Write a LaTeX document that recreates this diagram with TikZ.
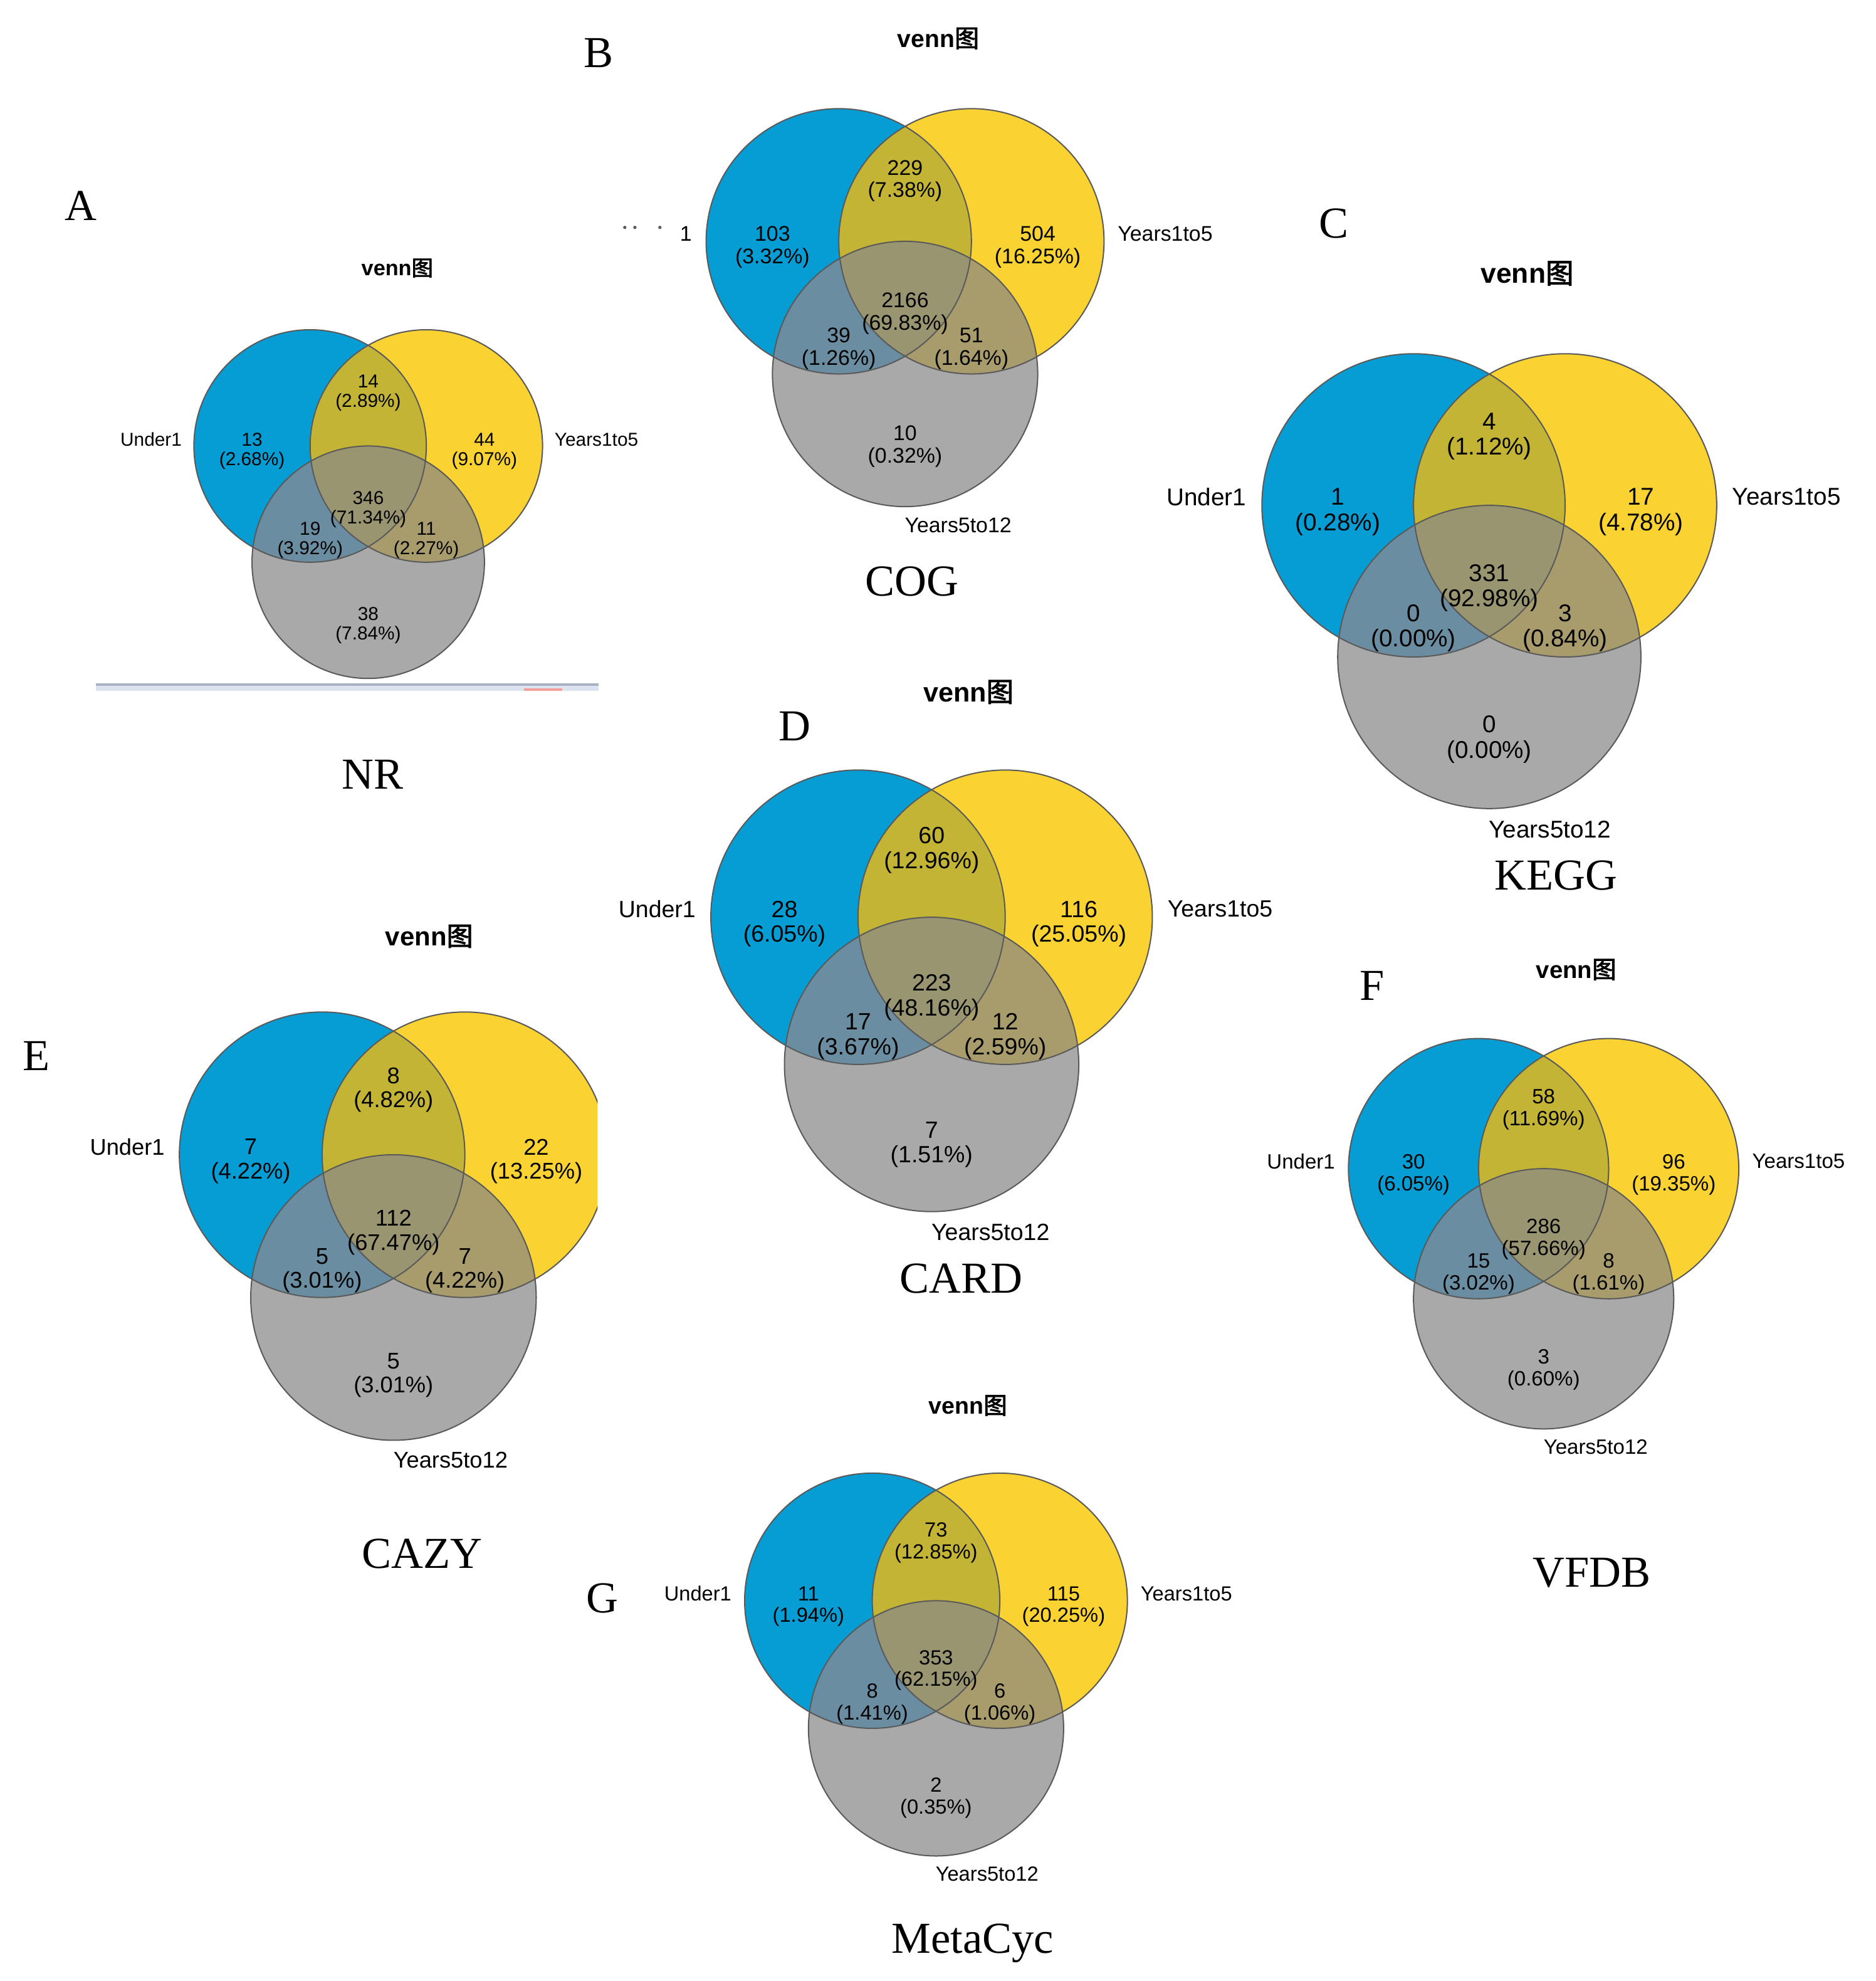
\documentclass[tikz,border=0pt]{standalone}
\usepackage{fontspec}
\setmainfont{Liberation Sans}
\newfontfamily\panelfont{Liberation Serif}
\newfontfamily\cjk[AutoFakeBold=2.5]{Noto Sans CJK SC}

\definecolor{vblue}{HTML}{069DD5}
\definecolor{vyellow}{HTML}{FAD232}
\definecolor{vgray}{HTML}{A9A9A9}
\definecolor{vab}{HTML}{C3B436}
\definecolor{vac}{HTML}{6A8DA2}
\definecolor{vbc}{HTML}{A99C6C}
\definecolor{vabc}{HTML}{9A9571}
\definecolor{vline}{HTML}{5A5A5A}
\definecolor{nrbar}{HTML}{DAE3EE}
\definecolor{nrbartop}{HTML}{A8B3C2}
\definecolor{nrred}{HTML}{F4A09A}

\tikzset{
	ring/.style={draw=vline, line width=0.5pt},
	regionlabel/.style={align=center, inner sep=0pt},
	setlabel/.style={inner sep=0pt},
	vtitle/.style={inner sep=0pt, font=\bfseries\fontsize{#1}{#1}\selectfont},
	panelname/.style={inner sep=0pt, font=\panelfont\fontsize{17.5}{20}\selectfont},
}

% three circles of one venn: name, middle x, top y, radius (in px)
\newcommand{\vennset}[4]{%
	\coordinate (#1-a) at ({#2-0.5*#4},#3);
	\coordinate (#1-b) at ({#2+0.5*#4},#3);
	\coordinate (#1-c) at (#2,{#3+#4});
	\fill[vblue] (#1-a) circle (#4);
	\fill[vyellow] (#1-b) circle (#4);
	\fill[vgray] (#1-c) circle (#4);
	\begin{scope} \clip (#1-a) circle (#4); \fill[vab] (#1-b) circle (#4); \end{scope}
	\begin{scope} \clip (#1-a) circle (#4); \fill[vac] (#1-c) circle (#4); \end{scope}
	\begin{scope} \clip (#1-b) circle (#4); \fill[vbc] (#1-c) circle (#4); \end{scope}
	\begin{scope} \clip (#1-a) circle (#4); \clip (#1-b) circle (#4); \fill[vabc] (#1-c) circle (#4); \end{scope}
	\draw[ring] (#1-a) circle (#4) (#1-b) circle (#4) (#1-c) circle (#4);
	% label spots
	\coordinate (#1-na) at ({#2-#4},{#3+0.045*#4});
	\coordinate (#1-nb) at ({#2+#4},{#3+0.045*#4});
	\coordinate (#1-nab) at (#2,{#3-0.455*#4});
	\coordinate (#1-nabc) at (#2,{#3+0.545*#4});
	\coordinate (#1-nac) at ({#2-0.5*#4},{#3+0.81*#4});
	\coordinate (#1-nbc) at ({#2+0.5*#4},{#3+0.81*#4});
	\coordinate (#1-nc) at (#2,{#3+1.545*#4});
	\coordinate (#1-left) at ({#2-1.6*#4},{#3-0.055*#4});
	\coordinate (#1-right) at ({#2+1.6*#4},{#3-0.055*#4});
	\coordinate (#1-below) at ({#2+0.4*#4},{#3+2.14*#4});
	\coordinate (#1-top) at ({#2+0.25*#4},{#3-1.53*#4});
}

\begin{document}
\begin{tikzpicture}[x=0.5pt, y=-0.5pt]
	\useasboundingbox (0,0) rectangle (1485,1568);

	% A -- NR
	\begin{scope}[font=\fontsize{7.4}{7.8}\selectfont]
		\vennset{nr}{291.5}{353}{92}
		\node[vtitle=8.5] (nr-title) at (nr-top) {venn{\cjk 图}};
		\node[setlabel, anchor=east] (nr-s1) at (nr-left) {Under1};
		\node[setlabel, anchor=west] (nr-s2) at (nr-right) {Years1to5};
		\node[regionlabel] (nr-r1) at (nr-na) {13\\(2.68\%)};
		\node[regionlabel] (nr-r2) at (nr-nab) {14\\(2.89\%)};
		\node[regionlabel] (nr-r3) at (nr-nb) {44\\(9.07\%)};
		\node[regionlabel] (nr-r4) at (nr-nabc) {346\\(71.34\%)};
		\node[regionlabel] (nr-r5) at (nr-nac) {19\\(3.92\%)};
		\node[regionlabel] (nr-r6) at (nr-nbc) {11\\(2.27\%)};
		\node[regionlabel] (nr-r7) at (nr-nc) {38\\(7.84\%)};
	\end{scope}
	\fill[nrbar] (76,541) rectangle (474,547);
	\fill[nrbartop] (76,541) rectangle (474,543);
	\fill[nrred] (415,545) rectangle (445,547);
	\node[panelname] (lab-a) at (64,163) {A};
	\node[panelname] (name-nr) at (295,613) {NR};

	% B -- COG
	\begin{scope}[font=\fontsize{8.4}{8.9}\selectfont]
		\vennset{cog}{716.5}{191}{105}
		\node[vtitle=9.7] (cog-title) at (cog-top) {venn{\cjk 图}};
		\node[setlabel] (cog-s1) at (543,185) {1};
		\fill[black!65] (494.6,180) circle (1.3) (502.6,180) circle (1.3) (522.4,180) circle (1.3);
		\node[setlabel, anchor=west] (cog-s2) at (cog-right) {Years1to5};
		\node[setlabel] (cog-s3) at (cog-below) {Years5to12};
		\node[regionlabel] (cog-r1) at (cog-na) {103\\(3.32\%)};
		\node[regionlabel] (cog-r2) at (cog-nab) {229\\(7.38\%)};
		\node[regionlabel] (cog-r3) at (cog-nb) {504\\(16.25\%)};
		\node[regionlabel] (cog-r4) at (cog-nabc) {2166\\(69.83\%)};
		\node[regionlabel] (cog-r5) at (cog-nac) {39\\(1.26\%)};
		\node[regionlabel] (cog-r6) at (cog-nbc) {51\\(1.64\%)};
		\node[regionlabel] (cog-r7) at (cog-nc) {10\\(0.32\%)};
	\end{scope}
	\node[panelname] (lab-b) at (474,42) {B};
	\node[panelname] (name-cog) at (722,460) {COG};

	% C -- KEGG
	\begin{scope}[font=\fontsize{9.6}{10.1}\selectfont]
		\vennset{kegg}{1179}{400}{120}
		\node[vtitle=11] (kegg-title) at (kegg-top) {venn{\cjk 图}};
		\node[setlabel, anchor=east] (kegg-s1) at (kegg-left) {Under1};
		\node[setlabel, anchor=west] (kegg-s2) at (kegg-right) {Years1to5};
		\node[setlabel] (kegg-s3) at (kegg-below) {Years5to12};
		\node[regionlabel] (kegg-r1) at (kegg-na) {1\\(0.28\%)};
		\node[regionlabel] (kegg-r2) at (kegg-nab) {4\\(1.12\%)};
		\node[regionlabel] (kegg-r3) at (kegg-nb) {17\\(4.78\%)};
		\node[regionlabel] (kegg-r4) at (kegg-nabc) {331\\(92.98\%)};
		\node[regionlabel] (kegg-r5) at (kegg-nac) {0\\(0.00\%)};
		\node[regionlabel] (kegg-r6) at (kegg-nbc) {3\\(0.84\%)};
		\node[regionlabel] (kegg-r7) at (kegg-nc) {0\\(0.00\%)};
	\end{scope}
	\node[panelname] (lab-c) at (1056,177) {C};
	\node[panelname] (name-kegg) at (1232,693) {KEGG};

	% D -- CARD
	\begin{scope}[font=\fontsize{9.3}{9.8}\selectfont]
		\vennset{card}{737.5}{726}{116.5}
		\node[vtitle=10.7] (card-title) at (card-top) {venn{\cjk 图}};
		\node[setlabel, anchor=east] (card-s1) at (card-left) {Under1};
		\node[setlabel, anchor=west] (card-s2) at (card-right) {Years1to5};
		\node[setlabel] (card-s3) at (card-below) {Years5to12};
		\node[regionlabel] (card-r1) at (card-na) {28\\(6.05\%)};
		\node[regionlabel] (card-r2) at (card-nab) {60\\(12.96\%)};
		\node[regionlabel] (card-r3) at (card-nb) {116\\(25.05\%)};
		\node[regionlabel] (card-r4) at (card-nabc) {223\\(48.16\%)};
		\node[regionlabel] (card-r5) at (card-nac) {17\\(3.67\%)};
		\node[regionlabel] (card-r6) at (card-nbc) {12\\(2.59\%)};
		\node[regionlabel] (card-r7) at (card-nc) {7\\(1.51\%)};
	\end{scope}
	\node[panelname] (lab-d) at (629,575) {D};
	\node[panelname] (name-card) at (761,1012) {CARD};

	% E -- CAZY (cut at the right)
	\begin{scope}[font=\fontsize{9.0}{9.5}\selectfont]
		\begin{scope}
			\clip (0,700) rectangle (473,1200);
			\vennset{cazy}{311.5}{914}{113}
		\end{scope}
		\node[vtitle=10.4] (cazy-title) at (cazy-top) {venn{\cjk 图}};
		\node[setlabel, anchor=east] (cazy-s1) at (cazy-left) {Under1};
		\node[setlabel] (cazy-s3) at (cazy-below) {Years5to12};
		\node[regionlabel] (cazy-r1) at (cazy-na) {7\\(4.22\%)};
		\node[regionlabel] (cazy-r2) at (cazy-nab) {8\\(4.82\%)};
		\node[regionlabel] (cazy-r3) at (cazy-nb) {22\\(13.25\%)};
		\node[regionlabel] (cazy-r4) at (cazy-nabc) {112\\(67.47\%)};
		\node[regionlabel] (cazy-r5) at (cazy-nac) {5\\(3.01\%)};
		\node[regionlabel] (cazy-r6) at (cazy-nbc) {7\\(4.22\%)};
		\node[regionlabel] (cazy-r7) at (cazy-nc) {5\\(3.01\%)};
	\end{scope}
	\node[panelname] (lab-e) at (29,836) {E};
	\node[panelname] (name-cazy) at (334,1230) {CAZY};

	% F -- VFDB
	\begin{scope}[font=\fontsize{8.2}{8.7}\selectfont]
		\vennset{vfdb}{1222}{925}{103}
		\node[vtitle=9.5] (vfdb-title) at (vfdb-top) {venn{\cjk 图}};
		\node[setlabel, anchor=east] (vfdb-s1) at (vfdb-left) {Under1};
		\node[setlabel, anchor=west] (vfdb-s2) at (vfdb-right) {Years1to5};
		\node[setlabel] (vfdb-s3) at (vfdb-below) {Years5to12};
		\node[regionlabel] (vfdb-r1) at (vfdb-na) {30\\(6.05\%)};
		\node[regionlabel] (vfdb-r2) at (vfdb-nab) {58\\(11.69\%)};
		\node[regionlabel] (vfdb-r3) at (vfdb-nb) {96\\(19.35\%)};
		\node[regionlabel] (vfdb-r4) at (vfdb-nabc) {286\\(57.66\%)};
		\node[regionlabel] (vfdb-r5) at (vfdb-nac) {15\\(3.02\%)};
		\node[regionlabel] (vfdb-r6) at (vfdb-nbc) {8\\(1.61\%)};
		\node[regionlabel] (vfdb-r7) at (vfdb-nc) {3\\(0.60\%)};
	\end{scope}
	\node[panelname] (lab-f) at (1086,780) {F};
	\node[panelname] (name-vfdb) at (1260,1245) {VFDB};

	% G -- MetaCyc
	\begin{scope}[font=\fontsize{8.1}{8.6}\selectfont]
		\vennset{meta}{741}{1267}{101}
		\node[vtitle=9.3] (meta-title) at (meta-top) {venn{\cjk 图}};
		\node[setlabel, anchor=east] (meta-s1) at (meta-left) {Under1};
		\node[setlabel, anchor=west] (meta-s2) at (meta-right) {Years1to5};
		\node[setlabel] (meta-s3) at (meta-below) {Years5to12};
		\node[regionlabel] (meta-r1) at (meta-na) {11\\(1.94\%)};
		\node[regionlabel] (meta-r2) at (meta-nab) {73\\(12.85\%)};
		\node[regionlabel] (meta-r3) at (meta-nb) {115\\(20.25\%)};
		\node[regionlabel] (meta-r4) at (meta-nabc) {353\\(62.15\%)};
		\node[regionlabel] (meta-r5) at (meta-nac) {8\\(1.41\%)};
		\node[regionlabel] (meta-r6) at (meta-nbc) {6\\(1.06\%)};
		\node[regionlabel] (meta-r7) at (meta-nc) {2\\(0.35\%)};
	\end{scope}
	\node[panelname] (lab-g) at (477,1265) {G};
	\node[panelname] (name-meta) at (770,1538) {MetaCyc};
\end{tikzpicture}
\end{document}
